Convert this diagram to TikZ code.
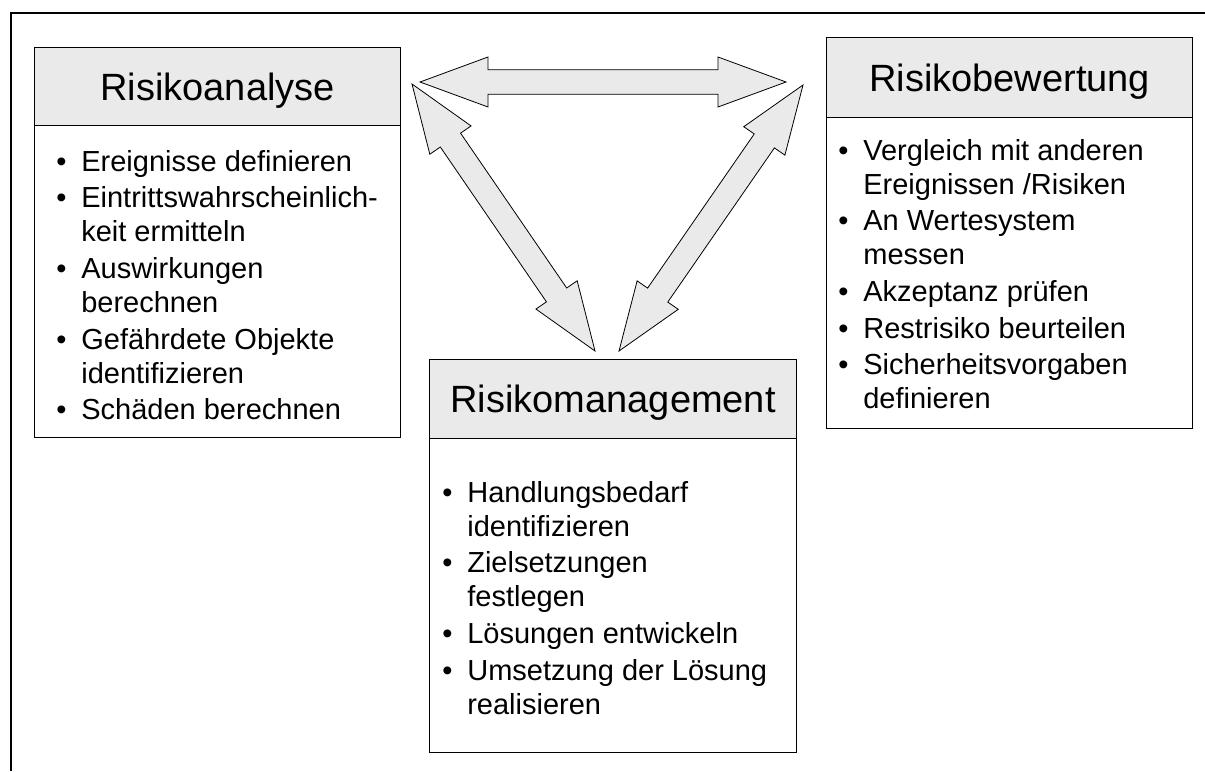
\documentclass[tikz,border=0pt]{standalone}
\usepackage{fontspec}
\setmainfont{Liberation Sans}
\usetikzlibrary{calc}
\definecolor{boxgray}{HTML}{EAEAEA}
\tikzset{
  frame/.style={line width=2.2pt},
  headbox/.style={draw, line width=0.9pt, fill=boxgray, inner sep=0pt, anchor=north west,
    text depth=0pt, font=\fontsize{28.5}{34}\selectfont},
  bodybox/.style={draw, line width=0.9pt, fill=white, inner sep=0pt, anchor=north west},
  items/.style={inner sep=0pt, anchor=base west, font=\fontsize{21.75}{25.5}\selectfont},
  bigarrow/.style={draw, line width=0.6pt, fill=boxgray, line join=miter},
}

\begin{document}
\begin{tikzpicture}[x=0.75pt,y=-0.75pt]
        \useasboundingbox (0,0) rectangle (1205,771);
        % frame (top and left only)
        \draw[frame] (11,771) -- (11,13) -- (1205,13);

        % Risikoanalyse
        \node[bodybox, minimum width=274.5pt, minimum height=234pt] (analyseBody) at (34,125) {};
        \node[headbox, minimum width=274.5pt, minimum height=58.5pt] (analyseHead) at (34,47) {Risikoanalyse};
        \node[items] (analyseText) at (56,171) {\begin{tabular}[t]{@{}p{18.8pt}@{}l@{}}
          \textbullet & Ereignisse definieren\\[2pt]
          \textbullet & Eintrittswahrscheinlich-\\
                      & keit ermitteln\\[2pt]
          \textbullet & Auswirkungen\\
                      & berechnen\\[2pt]
          \textbullet & Gefährdete Objekte\\
                      & identifizieren\\[2pt]
          \textbullet & Schäden berechnen
        \end{tabular}};

        % Risikobewertung
        \node[bodybox, minimum width=274.5pt, minimum height=233.25pt] (bewertungBody) at (826,117) {};
        \node[headbox, minimum width=274.5pt, minimum height=60pt] (bewertungHead) at (826,37) {Risikobewertung};
        \node[items] (bewertungText) at (838,160) {\begin{tabular}[t]{@{}p{18.8pt}@{}l@{}}
          \textbullet & Vergleich mit anderen\\
                      & Ereignissen /Risiken\\[2pt]
          \textbullet & An Wertesystem\\
                      & messen\\[2pt]
          \textbullet & Akzeptanz prüfen\\[2pt]
          \textbullet & Restrisiko beurteilen\\[2pt]
          \textbullet & Sicherheitsvorgaben\\
                      & definieren
        \end{tabular}};

        % Risikomanagement
        \node[bodybox, minimum width=275.25pt, minimum height=235.5pt] (managementBody) at (429,438) {};
        \node[headbox, minimum width=275.25pt, minimum height=59.25pt] (managementHead) at (429,359) {Risikomanagement};
        \node[items] (managementText) at (442,502) {\begin{tabular}[t]{@{}p{18.8pt}@{}l@{}}
          \textbullet & Handlungsbedarf\\
                      & identifizieren\\[2pt]
          \textbullet & Zielsetzungen\\
                      & festlegen\\[2pt]
          \textbullet & Lösungen entwickeln\\[2pt]
          \textbullet & Umsetzung der Lösung\\
                      & realisieren
        \end{tabular}};

        % arrow tips
        \coordinate (ta) at (420,82);
        \coordinate (tb) at (786,82);
        \coordinate (la) at (412,84);
        \coordinate (lb) at (595,351);
        \coordinate (ra) at (803,85);
        \coordinate (rb) at (619,351);

        % fat double arrows
        \foreach \a/\b in {ta/tb, la/lb, ra/rb}{
          \coordinate (ha) at ($(\a)!51pt!(\b)$);
          \coordinate (hb) at ($(\b)!51pt!(\a)$);
          \draw[bigarrow] (\a) -- ($(ha)!18.75pt!90:(\b)$) -- ($(ha)!9.2pt!90:(\b)$)
            -- ($(hb)!9.2pt!-90:(\a)$) -- ($(hb)!18.75pt!-90:(\a)$) -- (\b)
            -- ($(hb)!18.75pt!90:(\a)$) -- ($(hb)!9.2pt!90:(\a)$)
            -- ($(ha)!9.2pt!-90:(\b)$) -- ($(ha)!18.75pt!-90:(\b)$) -- cycle;
        }
\end{tikzpicture}
\end{document}
